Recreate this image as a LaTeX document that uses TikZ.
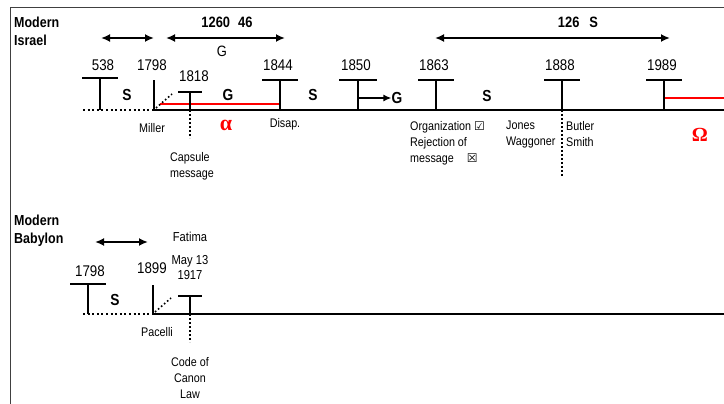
\documentclass[tikz,border=0pt]{standalone}
\usepackage{fontspec}
\setmainfont[FakeStretch=0.86]{Liberation Sans}
\newfontfamily\symbfont{DejaVu Sans}
\newfontfamily\greekfont{Liberation Serif}
\usetikzlibrary{arrows.meta,calc,positioning}
\definecolor{timelineRed}{HTML}{FF0000}

\tikzset{
  rowlabel/.style={anchor=west,align=left,inner sep=0pt,font=\fontsize{14.5}{18}\selectfont\bfseries},
  datelabel/.style={inner sep=0pt,font=\fontsize{15.5}{17}\selectfont},
  notelabel/.style={inner sep=0pt,align=left,font=\fontsize{12.5}{16}\selectfont},
  seglabel/.style={inner sep=0pt,font=\fontsize{16}{18}\selectfont\bfseries},
  ttick/.style={line width=2.2pt},
  mainline/.style={line width=2pt},
  dotline/.style={line width=2pt,dash pattern=on 2pt off 2.6pt},
  thindots/.style={line width=1.6pt,dash pattern=on 1.6pt off 2.4pt},
  redline/.style={timelineRed,line width=2pt},
  span/.style={line width=2pt,{Latex[length=9pt,width=8pt]}-{Latex[length=9pt,width=8pt]}},
}

\begin{document}
\begin{tikzpicture}[x=1pt,y=-1pt]
  \useasboundingbox (0,0) rectangle (724,404);
  \draw[line width=1pt,black!75] (10,404) -- (10,8) -- (724,8);

  % Modern Israel
  \node[rowlabel] (israel) at (14,31) {Modern\\Israel};
  \coordinate (iStart) at (83,110);
  \coordinate (iEnd) at (724,110);
  \coordinate (i538) at (100,110);
  \coordinate (i1798) at (154,110);
  \coordinate (i1818) at (190,110);
  \coordinate (i1844) at (280,110);
  \coordinate (i1850) at (358,110);
  \coordinate (i1863) at (436,110);
  \coordinate (i1888) at (562,110);
  \coordinate (i1989) at (664,110);

  \draw[dotline] (iStart) -- (i1798);
  \draw[mainline] (i1798) -- (iEnd);
  \draw[redline] (160,104) -- (280,104);
  \draw[redline] (664,98) -- (724,98);

  \foreach \c/\h/\w in {i538/32/18, i1844/30/18, i1850/30/19, i1863/30/18, i1888/30/18, i1989/30/18, i1818/18/12}
    \draw[ttick] (\c) -- ++(0,-\h) ++(-\w,0) -- ++(2*\w,0);
  \draw[ttick] (i1798) -- ++(0,-30);
  \draw[thindots] ($(i1798)+(2,-2)$) -- ++(16,-14);
  \draw[thindots] (i1818) -- ++(0,28);
  \draw[thindots] (i1888) -- ++(0,66);

  \node[datelabel] (d538) at (103,65) {538};
  \node[datelabel] (d1798) at (152,65) {1798};
  \node[datelabel] (d1818) at (194,76) {1818};
  \node[datelabel] (d1844) at (278,65) {1844};
  \node[datelabel] (d1850) at (356,65) {1850};
  \node[datelabel] (d1863) at (434,65) {1863};
  \node[datelabel] (d1888) at (560,65) {1888};
  \node[datelabel] (d1989) at (662,65) {1989};

  \node[seglabel] (s1) at (127,95) {S};
  \node[seglabel] (g1) at (228,95) {G};
  \node[seglabel] (s2) at (313,95) {S};
  \node[seglabel] (g2) at (397,98) {G};
  \node[seglabel] (s3) at (487,96) {S};
  \draw[line width=2pt,-{Latex[length=8pt,width=7pt]}] ($(i1850)+(0,-12)$) -- (g2.west);

  \node[notelabel] (miller) at (152,128) {Miller};
  \node[notelabel] (capsule) at (192,166) {Capsule\\message};
  \node[notelabel] (disap) at (285,124) {Disap.};
  \node[notelabel,anchor=north west] (org) at (410,121)
    {Organization {\symbfont\fontsize{12}{12}\selectfont\char"2611}\\Rejection of\\message\hspace{13pt}{\symbfont\fontsize{12}{12}\selectfont\char"2612}};
  \node[notelabel,anchor=north west] (jones) at (506,121) {Jones\\Waggoner};
  \node[notelabel,anchor=north west] (butler) at (566,121) {Butler\\Smith};
  \node[inner sep=0pt,text=timelineRed,font=\greekfont\fontsize{22}{24}\selectfont\bfseries] (alpha) at (226,125) {α};
  \node[inner sep=0pt,text=timelineRed,font=\greekfont\fontsize{20}{24}\selectfont\bfseries] (omega) at (700,135) {Ω};

  \coordinate (a1l) at (101,38); \coordinate (a1r) at (154,38);
  \coordinate (a2l) at (166,38); \coordinate (a2r) at (285,38);
  \coordinate (a3l) at (435,38); \coordinate (a3r) at (670,38);
  \draw[span] (a1l) -- (a1r);
  \draw[span] (a2l) -- (a2r);
  \draw[span] (a3l) -- (a3r);
  \node[seglabel,font=\fontsize{15}{17}\selectfont\bfseries] (p1260) at (227,22) {1260\hspace{8pt}46};
  \node[seglabel,font=\fontsize{15}{17}\selectfont] (pg) at (222,51) {G};
  \node[seglabel,font=\fontsize{15}{17}\selectfont\bfseries] (p126) at (578,22) {126\hspace{10pt}S};

  % Modern Babylon
  \node[rowlabel] (babylon) at (14,231) {Modern\\Babylon};
  \coordinate (bStart) at (83,314);
  \coordinate (bEnd) at (724,314);
  \coordinate (b1798) at (88,314);
  \coordinate (b1899) at (153,314);
  \coordinate (b1917) at (190,314);

  \draw[dotline] (bStart) -- (b1899);
  \draw[mainline] (b1899) -- (bEnd);
  \draw[ttick] (b1798) -- ++(0,-30) ++(-18,0) -- ++(36,0);
  \draw[ttick] (b1917) -- ++(0,-18) ++(-12,0) -- ++(24,0);
  \draw[ttick] (b1899) -- ++(0,-29);
  \draw[thindots] ($(b1899)+(2,-2)$) -- ++(16,-14);
  \draw[thindots] (b1917) -- ++(0,28);

  \node[datelabel] (e1798) at (90,271) {1798};
  \node[datelabel] (e1899) at (152,268) {1899};
  \node[notelabel,align=center,font=\fontsize{13}{16}\selectfont] (fatima) at (190,237) {Fatima};
  \node[notelabel,align=center,font=\fontsize{13}{15}\selectfont] (may) at (190,268) {May 13\\1917};
  \node[seglabel] (s4) at (115,300) {S};
  \node[notelabel] (pacelli) at (157,332) {Pacelli};
  \node[notelabel,align=center,font=\fontsize{12.5}{16}\selectfont] (canon) at (190,378) {Code of\\Canon\\Law};
  \coordinate (a4l) at (95,242); \coordinate (a4r) at (148,242);
  \draw[span] (a4l) -- (a4r);
\end{tikzpicture}
\end{document}
